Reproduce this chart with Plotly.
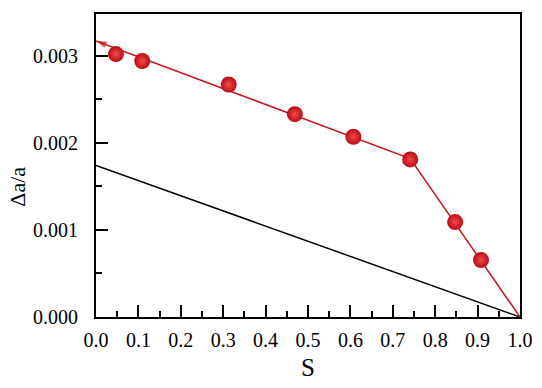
import plotly.graph_objects as go

# measured data
S_data = [0.047, 0.109, 0.313, 0.469, 0.607, 0.741, 0.847, 0.908]
da_data = [0.00302, 0.00294, 0.00267, 0.00233, 0.00207, 0.00181, 0.00109, 0.000655]

# red guide line (from S=1 back to S=0, arrow at the end)
fit_S = [1.0, 0.741, 0.0]
fit_y = [0.0, 0.00182, 0.00317]

# black reference line
ref_S = [0.0, 1.0]
ref_y = [0.00174, 0.0]

x_ticks = [0.0, 0.1, 0.2, 0.3, 0.4, 0.5, 0.6, 0.7, 0.8, 0.9, 1.0]
y_ticks = [0.000, 0.001, 0.002, 0.003]

red = "#c8141c"
font_family = "Liberation Serif, Times New Roman, serif"

fig = go.Figure()
fig.add_trace(go.Scatter(x=ref_S, y=ref_y, mode="lines",
                         line=dict(color="black", width=1.5), showlegend=False))
fig.add_trace(go.Scatter(x=fit_S, y=fit_y, mode="lines+markers",
                         line=dict(color=red, width=1.5),
                         marker=dict(symbol=["circle", "circle", "arrow"],
                                     size=[0, 0, 11], color=red,
                                     angleref="previous", line=dict(width=0)),
                         cliponaxis=False, showlegend=False))
fig.add_trace(go.Scatter(x=S_data, y=da_data, mode="markers",
                         marker=dict(size=16, color="#b80c14",
                                     gradient=dict(type="radial", color="#f24a4a"),
                                     line=dict(width=0)),
                         cliponaxis=False, showlegend=False))

axis_common = dict(showline=True, mirror=True, linecolor="black", linewidth=2,
                   ticks="inside", ticklen=12, tickwidth=2, tickcolor="black",
                   showgrid=False, zeroline=False, automargin=False,
                   tickfont=dict(family=font_family, size=20, color="black"))

fig.update_xaxes(range=[0, 1.0], tickvals=x_ticks, tickformat=".1f",
                 ticklabelstandoff=4,
                 minor=dict(ticks="inside", ticklen=6, tickwidth=2, dtick=0.05,
                            tickcolor="black", showgrid=False),
                 title=dict(text="S", font=dict(family=font_family, size=25, color="black"),
                            standoff=8),
                 **axis_common)
fig.update_yaxes(range=[0, 0.00348], tickvals=y_ticks, tickformat=".3f",
                 ticklabelstandoff=12,
                 minor=dict(ticks="inside", ticklen=6, tickwidth=2, dtick=0.0005,
                            tickcolor="black", showgrid=False),
                 **axis_common)

fig.add_annotation(text="Δa/a", xref="paper", yref="paper", x=-0.184, y=0.43,
                   textangle=-90, showarrow=False, xanchor="center", yanchor="middle",
                   font=dict(family=font_family, size=22, color="black"))

fig.update_layout(width=542, height=388,
                  margin=dict(l=96, r=22, t=14, b=71),
                  plot_bgcolor="white", paper_bgcolor="white")

fig.write_html("out.html", config={"displayModeBar": False},
               post_script="document.body.style.margin='0';document.body.style.overflow='hidden';")
